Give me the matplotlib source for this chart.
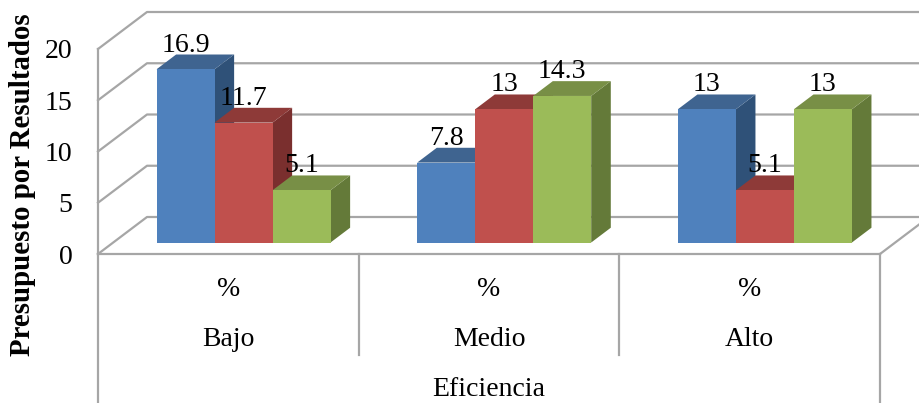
import matplotlib
matplotlib.use("Agg")
import matplotlib.pyplot as plt
from matplotlib.patches import Polygon

groups = ["Bajo", "Medio", "Alto"]
units = ["%", "%", "%"]
outer_label = "Eficiencia"
y_label = "Presupuesto por Resultados"
y_ticks = [0, 5, 10, 15, 20]
serie_a = [16.9, 7.8, 13]
serie_b = [11.7, 13, 5.1]
serie_c = [5.1, 14.3, 13]

series = [serie_a, serie_b, serie_c]
front_cols = ["#4F81BD", "#C0504D", "#9BBB59"]
top_cols = ["#3F6490", "#8E3A38", "#788F46"]
side_cols = ["#2F5178", "#7A2F2E", "#647A39"]
GRID = "#A6A6A6"
plt.rcParams["font.family"] = ["Liberation Serif", "DejaVu Serif"]

W, H = 920, 403
fig = plt.figure(figsize=(W / 100, H / 100), dpi=100)
L, R, B, T = 98, 880, 254, 49
ax = fig.add_axes([L / W, 1 - B / H, (R - L) / W, (B - T) / H])
ax.set_xlim(0, 3)
ax.set_ylim(0, 20)
ax.patch.set_visible(False)
for s in ax.spines.values():
    s.set_visible(False)

px = 3 / (R - L)           # data x per pixel
py = 20 / (B - T)          # data y per pixel
DX, DY = 49 * px, 37 * py  # full depth of the plot box
BW = 58 * px               # bar width
D0, D1 = 0.31, 0.71        # bar depth span within the box


def line(xs, ys, **kw):
    ax.plot(xs, ys, color=GRID, lw=1.6, clip_on=False, solid_capstyle="projecting", **kw)


# walls and gridlines
for t in y_ticks:
    line([0, DX, 3 + DX], [t, t + DY, t + DY], zorder=1)
line([0, 0], [0, 20], zorder=1)
line([3, 3 + DX], [0, DY], zorder=1)

# bars
z = 2
for g in range(len(groups)):
    x0 = g + 0.5 - 1.5 * BW
    for i, vals in enumerate(series):
        v = vals[g]
        xl = x0 + i * BW + D0 * DX
        xr = xl + BW
        y0 = D0 * DY
        y1 = y0 + v
        ddx, ddy = (D1 - D0) * DX, (D1 - D0) * DY
        ax.add_patch(Polygon([(xr, y0), (xr + ddx, y0 + ddy), (xr + ddx, y1 + ddy), (xr, y1)],
                             fc=side_cols[i], ec="none", zorder=z, clip_on=False))
        ax.add_patch(Polygon([(xl, y1), (xr, y1), (xr + ddx, y1 + ddy), (xl + ddx, y1 + ddy)],
                             fc=top_cols[i], ec="none", zorder=z, clip_on=False))
        ax.add_patch(Polygon([(xl, y0), (xr, y0), (xr, y1), (xl, y1)],
                             fc=front_cols[i], ec="none", zorder=z, clip_on=False))
        ax.text(xl + BW / 2, y1 + ddy + 3 * py, f"{v:g}", ha="center", va="baseline",
                fontsize=20, color="black", zorder=20, clip_on=False)
        z += 1

# floor front edge and multi-level category axis
line([0, 3], [0, 0], zorder=30)
Y_CAT = -101 * py
Y_OUT = -149 * py
for x, bottom in zip(range(len(groups) + 1), [Y_OUT, Y_CAT, Y_CAT, Y_OUT]):
    line([x, x], [0, bottom], zorder=30)
for g, (name, unit) in enumerate(zip(groups, units)):
    ax.text(g + 0.5, -36 * py, unit, ha="center", va="center", fontsize=20, clip_on=False)
    ax.text(g + 0.5, -85 * py, name, ha="center", va="center", fontsize=20, clip_on=False)
ax.text(1.5, -136 * py, outer_label, ha="center", va="center", fontsize=20, clip_on=False)

# value axis
ax.set_xticks([])
ax.set_yticks(y_ticks)
ax.set_yticklabels([str(t) for t in y_ticks], fontsize=20)
ax.tick_params(axis="y", length=0, pad=18.5)
fig.text(23 / W, 1 - 185 / H, y_label, rotation=90, ha="center", va="center",
         fontsize=20.8, fontweight="bold")

fig.savefig("out.png", dpi=100)
